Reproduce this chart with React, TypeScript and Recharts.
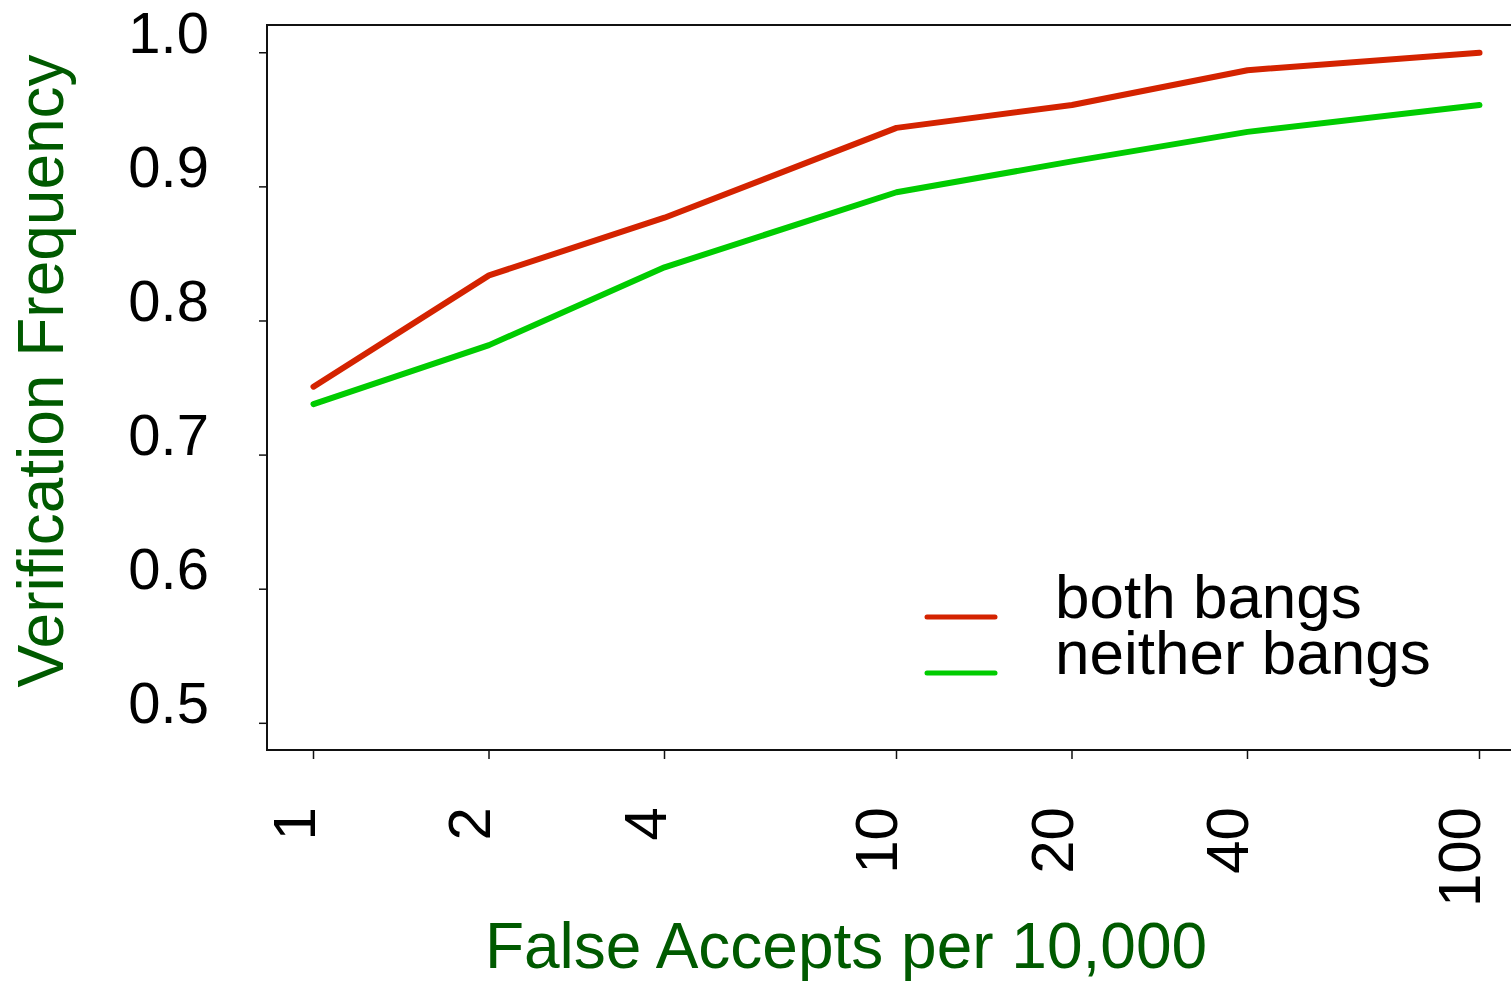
import {
  Legend,
  Line,
  LineChart,
  ReferenceArea,
  XAxis,
  YAxis,
} from "recharts";

// false accepts per 10,000 (log axis)
const falseAccepts = [1, 2, 4, 10, 20, 40, 100];
const bothBangs = [0.751, 0.834, 0.877, 0.944, 0.961, 0.987, 1.0];
const neitherBangs = [0.738, 0.782, 0.84, 0.896, 0.919, 0.941, 0.961];

const xTicks = [1, 2, 4, 10, 20, 40, 100];
const yTicks = [0.5, 0.6, 0.7, 0.8, 0.9, 1.0];

const X_DOMAIN: [number, number] = [0.8322, 127.5];
const Y_DOMAIN: [number, number] = [0.4801, 1.0207];

const FONT = '"Liberation Sans", Arial, Helvetica, sans-serif';
const TITLE_GREEN = "#005a00";
const RED = "#d42300";
const GREEN = "#00cc00";

const data = falseAccepts.map((far, i) => ({
  far,
  both: bothBangs[i],
  neither: neitherBangs[i],
}));

function XTick(props: any) {
  const { x, payload } = props;
  const bx = x + 1;
  const by = 807;
  return (
    <text
      x={bx}
      y={by}
      transform={`rotate(-90, ${bx}, ${by})`}
      textAnchor="end"
      fontFamily={FONT}
      fontSize={60}
      fill="#000"
    >
      {payload.value}
    </text>
  );
}

function YTick(props: any) {
  const { y, payload } = props;
  return (
    <text x={209} y={y} textAnchor="end" fontFamily={FONT} fontSize={58} fill="#000">
      {Number(payload.value).toFixed(1)}
    </text>
  );
}

function renderLegend(props: any) {
  const rows = props.payload || [];
  return (
    <svg width={560} height={140}>
      {rows.map((entry: any, i: number) => {
        const y = 57 + i * 56;
        return (
          <g key={entry.value}>
            <line
              x1={27}
              x2={95}
              y1={y}
              y2={y}
              stroke={entry.color}
              strokeWidth={5}
              strokeLinecap="round"
            />
            <text x={155} y={y + 1} fontFamily={FONT} fontSize={62} fill="#000">
              {entry.value}
            </text>
          </g>
        );
      })}
    </svg>
  );
}

export default function App() {
  return (
    <div
      style={{
        position: "absolute",
        left: 0,
        top: 0,
        width: 1511,
        height: 981,
        overflow: "hidden",
        background: "#fff",
      }}
    >
      <LineChart
        width={1560}
        height={981}
        data={data}
        margin={{ top: 25, right: 19, bottom: 0, left: 0 }}
      >
        <ReferenceArea
          x1={X_DOMAIN[0]}
          x2={X_DOMAIN[1]}
          y1={Y_DOMAIN[0]}
          y2={Y_DOMAIN[1]}
          fill="none"
          stroke="#111"
          strokeWidth={2}
        />
        <XAxis
          dataKey="far"
          type="number"
          scale="log"
          domain={X_DOMAIN}
          allowDataOverflow
          ticks={xTicks}
          interval={0}
          height={231}
          axisLine={false}
          tickLine={{ stroke: "#111", strokeWidth: 1.5 }}
          tickSize={9}
          tick={<XTick />}
          label={{
            content: () => (
              <text
                x={846}
                y={968}
                textAnchor="middle"
                fontFamily={FONT}
                fontSize={64}
                fill={TITLE_GREEN}
              >
                False Accepts per 10,000
              </text>
            ),
          }}
        />
        <YAxis
          type="number"
          domain={Y_DOMAIN}
          allowDataOverflow
          ticks={yTicks}
          interval={0}
          width={267}
          axisLine={false}
          tickLine={{ stroke: "#111", strokeWidth: 1.5 }}
          tickSize={8}
          tick={<YTick />}
          label={{
            content: () => (
              <text
                x={63}
                y={371}
                transform="rotate(-90, 63, 371)"
                textAnchor="middle"
                fontFamily={FONT}
                fontSize={64}
                fill={TITLE_GREEN}
              >
                Verification Frequency
              </text>
            ),
          }}
        />
        <Legend
          layout="horizontal"
          verticalAlign="middle"
          align="center"
          content={renderLegend}
          wrapperStyle={{ left: 900, top: 560, width: 560, height: 140 }}
        />
        <Line
          dataKey="both"
          name="both bangs"
          stroke={RED}
          strokeWidth={6}
          strokeLinecap="round"
          strokeLinejoin="round"
          dot={false}
          activeDot={false}
          isAnimationActive={false}
        />
        <Line
          dataKey="neither"
          name="neither bangs"
          stroke={GREEN}
          strokeWidth={6}
          strokeLinecap="round"
          strokeLinejoin="round"
          dot={false}
          activeDot={false}
          isAnimationActive={false}
        />
      </LineChart>
    </div>
  );
}
